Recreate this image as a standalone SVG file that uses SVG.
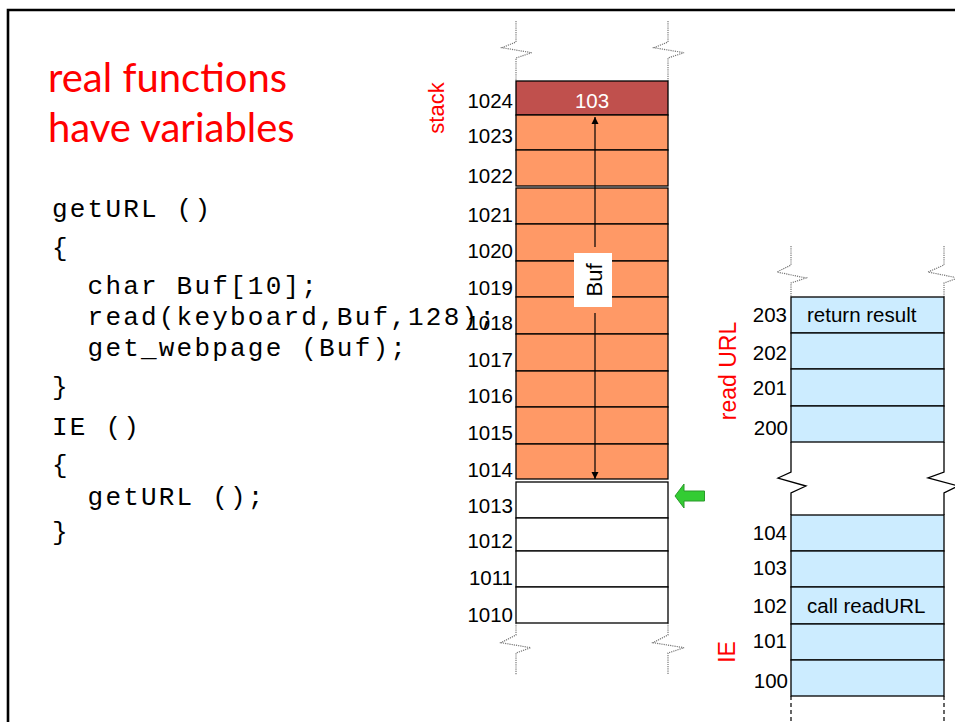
<svg xmlns="http://www.w3.org/2000/svg" width="955" height="722" viewBox="0 0 955 722">
  <defs>
    <style>
      .cell { stroke: #000; stroke-width: 1.3; }
      .buf { fill: #FF9966; }
      .ret { fill: #C0504D; }
      .free { fill: #FFFFFF; }
      .code { fill: #CCECFF; }
      .addr { font-family: "Liberation Sans", Arial, sans-serif; font-size: 20.5px; fill: #000; text-anchor: end; }
      .lbl { font-family: "Liberation Sans", Arial, sans-serif; font-size: 20.5px; fill: #000; }
      .red { font-family: "Liberation Sans", Arial, sans-serif; fill: #FF0000; text-anchor: middle; }
      .src { font-family: "Liberation Mono", "Courier New", monospace; font-size: 26px; letter-spacing: 2.2px; fill: #000; white-space: pre; }
      .title { font-family: Lato, "Open Sans", sans-serif; font-size: 40px; fill: #FF0000; }
      .brk { fill: none; stroke: #777; stroke-width: 1.2; stroke-dasharray: 1.2 1; }
      .brk-solid { fill: none; stroke: #000; stroke-width: 1.3; }
      .dash { fill: none; stroke: #000; stroke-width: 1.2; stroke-dasharray: 4 3; }
    </style>
    <marker id="tip" viewBox="0 0 10 10" refX="10" refY="5" markerWidth="7" markerHeight="8" markerUnits="userSpaceOnUse" orient="auto">
      <path d="M0,0 L10,5 L0,10 Z" fill="#000"/>
    </marker>
  </defs>

  <rect width="955" height="722" fill="#FFFFFF"/>

  <!-- slide frame -->
  <path d="M8,722 V10 H955" fill="none" stroke="#000" stroke-width="2.6"/>

  <!-- heading -->
  <g id="title">
    <text class="title" x="48" y="92">real functions</text>
    <text class="title" x="48" y="142">have variables</text>
  </g>

  <!-- source listing -->
  <g id="source">
    <text class="src" x="52" y="217">getURL ()</text>
    <text class="src" x="52" y="256">{</text>
    <text class="src" x="52" y="294">  char Buf[10];</text>
    <text class="src" x="52" y="325">  read(keyboard,Buf,128);</text>
    <text class="src" x="52" y="356">  get_webpage (Buf);</text>
    <text class="src" x="52" y="395">}</text>
    <text class="src" x="52" y="435">IE ()</text>
    <text class="src" x="52" y="473">{</text>
    <text class="src" x="52" y="505">  getURL ();</text>
    <text class="src" x="52" y="540">}</text>
  </g>

  <!-- stack column: break marks -->
  <g id="stack-breaks">
    <path class="brk" d="M516,21 V42 L502,47.7 L531.7,52.7 L516,58 V81"/>
    <path class="brk" d="M668,21 V42 L654,47.7 L684,52.7 L668,58 V81"/>
    <path class="brk" d="M516,623 V635 L501,642.7 L530.7,647.7 L516,653 V675"/>
    <path class="brk" d="M668,623 V635 L653,642.7 L684,647.7 L668,653 V675"/>
  </g>

  <!-- stack cells -->
  <g id="cell-1024"><rect class="cell ret" x="516" y="81" width="152" height="34"/><text class="addr" x="513" y="108">1024</text>
    <text x="592" y="108" font-family="Liberation Sans, Arial, sans-serif" font-size="20.5" fill="#FFFFFF" text-anchor="middle">103</text></g>
  <g id="cell-1023"><rect class="cell buf" x="516" y="115" width="152" height="35"/><text class="addr" x="513" y="143">1023</text></g>
  <g id="cell-1022"><rect class="cell buf" x="516" y="150" width="152" height="36"/><text class="addr" x="513" y="183">1022</text></g>
  <g id="cell-1021"><rect class="cell buf" x="516" y="188" width="152" height="36"/><text class="addr" x="513" y="222">1021</text></g>
  <g id="cell-1020"><rect class="cell buf" x="516" y="224" width="152" height="37"/><text class="addr" x="513" y="258">1020</text></g>
  <g id="cell-1019"><rect class="cell buf" x="516" y="261" width="152" height="36"/><text class="addr" x="513" y="295">1019</text></g>
  <g id="cell-1018"><rect class="cell buf" x="516" y="297" width="152" height="37"/><text class="addr" x="513" y="330">1018</text></g>
  <g id="cell-1017"><rect class="cell buf" x="516" y="334" width="152" height="37"/><text class="addr" x="513" y="367">1017</text></g>
  <g id="cell-1016"><rect class="cell buf" x="516" y="371" width="152" height="36"/><text class="addr" x="513" y="403">1016</text></g>
  <g id="cell-1015"><rect class="cell buf" x="516" y="407" width="152" height="37"/><text class="addr" x="513" y="440">1015</text></g>
  <g id="cell-1014"><rect class="cell buf" x="516" y="444" width="152" height="35"/><text class="addr" x="513" y="477">1014</text></g>
  <g id="cell-1013"><rect class="cell free" x="516" y="482" width="152" height="36"/><text class="addr" x="513" y="513">1013</text></g>
  <g id="cell-1012"><rect class="cell free" x="516" y="518" width="152" height="33"/><text class="addr" x="513" y="548">1012</text></g>
  <g id="cell-1011"><rect class="cell free" x="516" y="551" width="152" height="36"/><text class="addr" x="513" y="585">1011</text></g>
  <g id="cell-1010"><rect class="cell free" x="516" y="587" width="152" height="36"/><text class="addr" x="513" y="622">1010</text></g>

  <!-- Buf extent -->
  <g id="connectors">
    <line x1="595" y1="247" x2="595" y2="117" stroke="#000" stroke-width="1.2" marker-end="url(#tip)"/>
    <line x1="595" y1="313" x2="595" y2="479" stroke="#000" stroke-width="1.2" marker-end="url(#tip)"/>
  </g>
  <g id="buf-label">
    <rect x="574" y="253" width="38" height="54" fill="#FFFFFF"/>
    <text transform="translate(602,280) rotate(-90)" font-family="Liberation Sans, Arial, sans-serif" font-size="22" fill="#000" text-anchor="middle">Buf</text>
  </g>

  <!-- stack pointer -->
  <g id="pointer">
    <path d="M675,496 L684,484 V491 H704.5 V501 H684 V508 Z" fill="#33CC33" stroke="#2A9A2A" stroke-width="1"/>
  </g>

  <!-- region names -->
  <g id="label-stack"><text class="red" font-size="22" transform="translate(444,108) rotate(-90)">stack</text></g>
  <g id="label-readurl"><text class="red" font-size="23" transform="translate(736,371) rotate(-90)">read URL</text></g>
  <g id="label-ie"><text class="red" font-size="23" transform="translate(735,652) rotate(-90)">IE</text></g>

  <!-- code column: break marks -->
  <g id="code-breaks">
    <path class="brk" d="M791,246 V265 L777,272 L806,278 L791,283 V297"/>
    <path class="brk" d="M944,246 V265 L928,272 L958,278 L944,283 V297"/>
    <path class="brk-solid" d="M791,442 V472 L778,478 L806,486 L791,493 V515"/>
    <path class="brk-solid" d="M944,442 V472 L928,478 L958,486 L944,493 V515"/>
    <path class="dash" d="M791,696 V722 M944,696 V722"/>
  </g>

  <!-- readURL code -->
  <g id="cell-203"><rect class="cell code" x="791" y="297" width="153" height="36"/><text class="addr" x="787" y="322">203</text>
    <text class="lbl" x="807" y="322">return result</text></g>
  <g id="cell-202"><rect class="cell code" x="791" y="333" width="153" height="36"/><text class="addr" x="787" y="360">202</text></g>
  <g id="cell-201"><rect class="cell code" x="791" y="369" width="153" height="37"/><text class="addr" x="787" y="395">201</text></g>
  <g id="cell-200"><rect class="cell code" x="791" y="406" width="153" height="36"/><text class="addr" x="788" y="435">200</text></g>

  <!-- IE code -->
  <g id="cell-104"><rect class="cell code" x="791" y="515" width="153" height="36"/><text class="addr" x="787" y="540">104</text></g>
  <g id="cell-103"><rect class="cell code" x="791" y="551" width="153" height="36"/><text class="addr" x="787" y="575">103</text></g>
  <g id="cell-102"><rect class="cell code" x="791" y="587" width="153" height="37"/><text class="addr" x="787" y="613">102</text>
    <text class="lbl" x="807" y="613">call readURL</text></g>
  <g id="cell-101"><rect class="cell code" x="791" y="624" width="153" height="36"/><text class="addr" x="787" y="648">101</text></g>
  <g id="cell-100"><rect class="cell code" x="791" y="660" width="153" height="36"/><text class="addr" x="788" y="688">100</text></g>
</svg>
